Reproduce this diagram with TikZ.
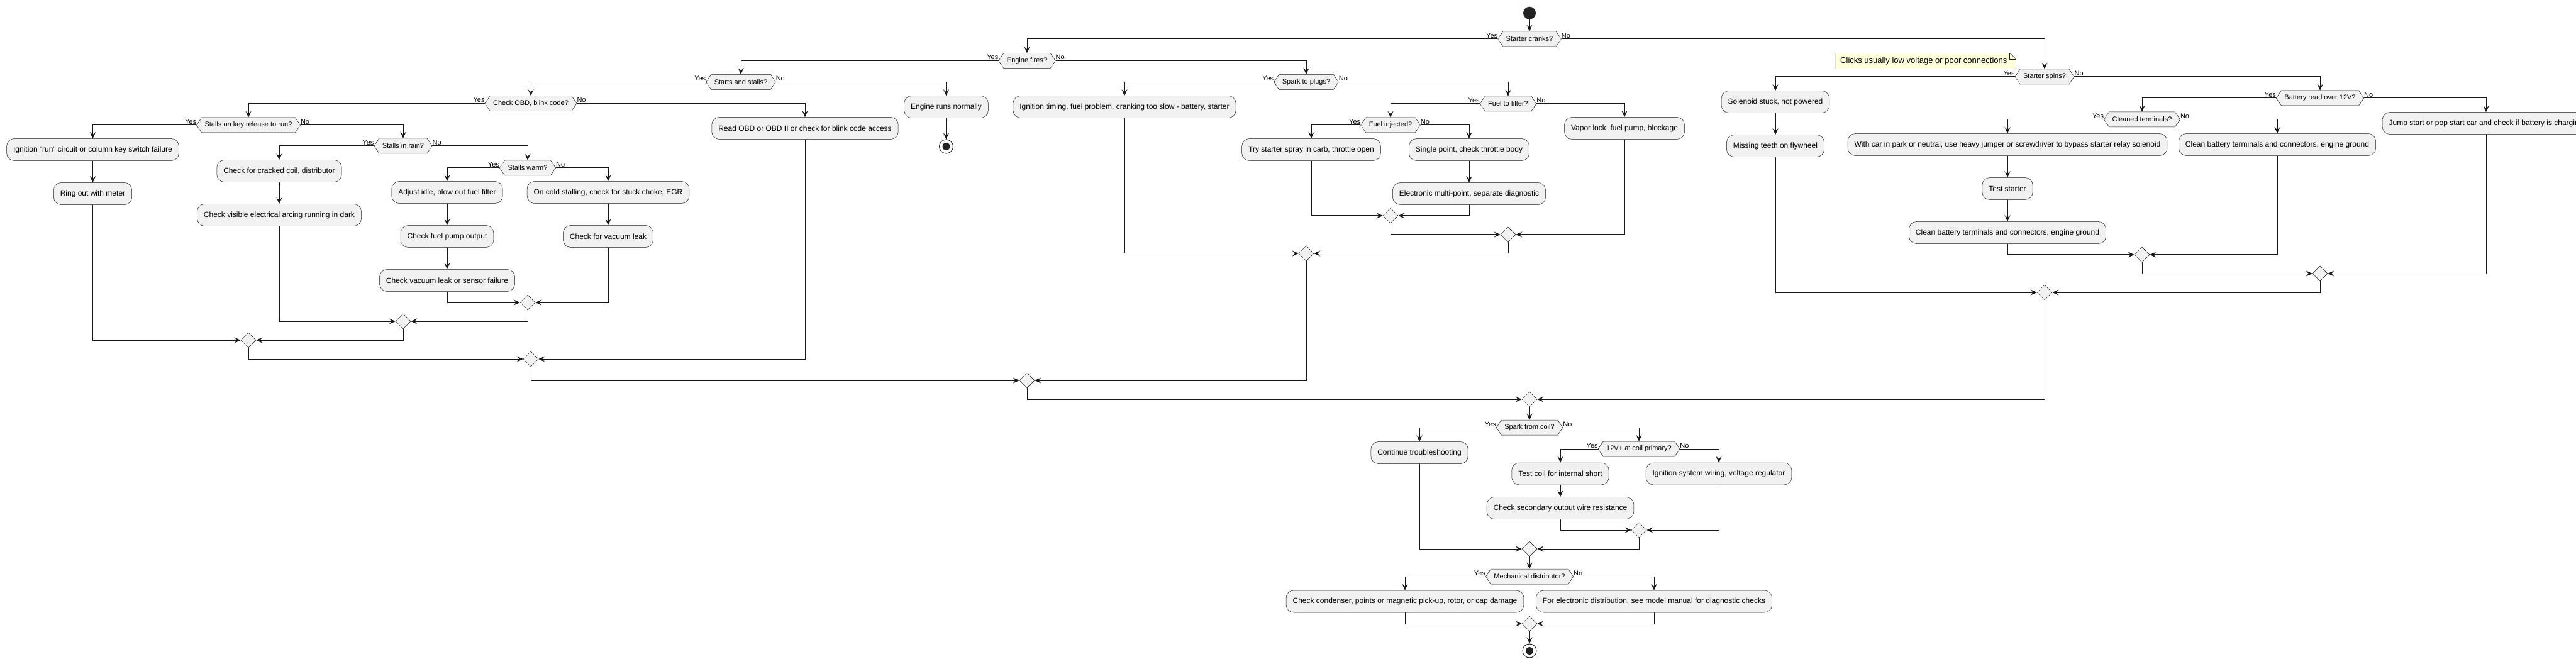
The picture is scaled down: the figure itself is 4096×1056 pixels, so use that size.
\documentclass[tikz,border=0pt]{standalone}
\usepackage{fontspec}
\setmainfont{Liberation Sans}
\usetikzlibrary{shapes.geometric,shapes.symbols,arrows.meta}
\definecolor{boxfill}{HTML}{F1F1F1}
\definecolor{ln}{HTML}{181818}
\definecolor{notefill}{HTML}{FEFFDD}
\definecolor{startc}{HTML}{222222}
\newcommand\ynlab[1]{%
  \node[lbl,anchor=base east] at ([yshift=1.5pt]#1.west) {Yes};
  \node[lbl,anchor=base west] at ([yshift=1.5pt]#1.east) {No};}
\begin{document}
\begin{tikzpicture}[x=1pt,y=-1pt,
  act/.style={rectangle, rounded corners=12pt, draw=ln, line width=0.5pt, fill=boxfill,
    minimum height=35pt, inner xsep=10.5pt, inner ysep=0pt, font=\fontsize{12}{14}\selectfont},
  dec/.style={shape=signal, signal to=east and west, signal pointer angle=112, draw=ln,
    line width=0.5pt, fill=boxfill, minimum height=24pt, inner xsep=5pt, inner ysep=0pt,
    font=\fontsize{11}{13}\selectfont},
  mrg/.style={diamond, draw=ln, line width=0.5pt, fill=boxfill, minimum width=24pt,
    minimum height=24pt, inner sep=0pt},
  arr/.style={draw=ln, line width=1pt, -{Stealth[length=10pt,width=9pt,inset=4pt]}},
  lbl/.style={font=\fontsize{11}{13}\selectfont, inner sep=0pt},
  endn/.style={circle, draw=ln, line width=1pt, minimum size=22pt, inner sep=0pt, fill=white},
]
\useasboundingbox (0,0) rectangle (4096,1056);
\clip (0,0) rectangle (4096,1056);
\fill[white] (0,0) rectangle (4096,1056);

% ---- start and top decisions
\node[circle, fill=startc, minimum size=20pt, inner sep=0pt] (start) at (2432,20.7) {};
\node[dec] (cranks) at (2432,62) {Starter cranks?};
\node[dec] (fires) at (1633,96.5) {Engine fires?};
\node[dec] (stalls) at (1178,130.5) {Starts and stalls?};
\node[dec] (obd) at (844,164.5) {Check OBD, blink code?};
\node[dec] (keyrel) at (395,199) {Stalls on key release to run?};
\node[dec] (rain) at (641,232) {Stalls in rain?};
\node[dec] (warm) at (839,267) {Stalls warm?};

\node[act] (ignrun) at (147.5,238) {Ignition "run" circuit or column key switch failure};
\node[act] (ringout) at (147.5,308) {Ring out with meter};
\node[act] (cracked) at (444,272) {Check for cracked coil, distributor};
\node[act] (arcing) at (444,342) {Check visible electrical arcing running in dark};
\node[act] (adjust) at (711,306) {Adjust idle, blow out fuel filter};
\node[act] (pump) at (711,376) {Check fuel pump output};
\node[act] (vacsensor) at (711,446) {Check vacuum leak or sensor failure};
\node[act] (cold) at (967,306) {On cold stalling, check for stuck choke, EGR};
\node[act] (vacleak) at (967,376) {Check for vacuum leak};
\node[act] (readobd) at (1280,204) {Read OBD or OBD II or check for blink code access};
\node[act] (normal) at (1504.5,170) {Engine runs normally};
\node[endn] (end1) at (1504.5,233) {};
\fill[startc] (end1.center) circle (6pt);

\node[mrg] (mwarm) at (839,481) {};
\node[mrg] (mrain) at (641,511) {};
\node[mrg] (mkey) at (395,541) {};
\node[mrg] (mobd) at (844,571) {};

% ---- spark branch
\node[dec] (plugs) at (2077,130.5) {Spark to plugs?};
\node[dec] (filter) at (2398,165) {Fuel to filter?};
\node[dec] (injected) at (2211,199) {Fuel injected?};
\node[act] (igntiming) at (1788,170) {Ignition timing, fuel problem, cranking too slow - battery, starter};
\node[act] (spray) at (2085,238) {Try starter spray in carb, throttle open};
\node[act] (single) at (2336,238) {Single point, check throttle body};
\node[act] (multi) at (2336,308) {Electronic multi-point, separate diagnostic};
\node[act] (vapor) at (2583,204) {Vapor lock, fuel pump, blockage};
\node[mrg] (minj) at (2211,343) {};
\node[mrg] (mfilter) at (2398,373) {};
\node[mrg] (mplugs) at (2077,403) {};
\node[mrg] (mfires) at (1633,605) {};

% ---- starter spins branch
\node[dec] (spins) at (3251,122) {Starter spins?};
\node[dec] (battery) at (3689,156) {Battery read over 12V?};
\node[dec] (cleaned) at (3406,190) {Cleaned terminals?};
\node[act] (solenoid) at (2823,162) {Solenoid stuck, not powered};
\node[act] (flywheel) at (2823,232) {Missing teeth on flywheel};
\node[act] (bypass) at (3192,230) {With car in park or neutral, use heavy jumper or screwdriver to bypass starter relay solenoid};
\node[act] (teststarter) at (3192,300) {Test starter};
\node[act] (clean1) at (3192,370) {Clean battery terminals and connectors, engine ground};
\node[act] (clean2) at (3621,230) {Clean battery terminals and connectors, engine ground};
\node[act] (jump) at (3953,196) {Jump start or pop start car and check if battery is charging};
\node[mrg] (mclean) at (3406,405) {};
\node[mrg] (mbatt) at (3689,435) {};
\node[mrg] (mspins) at (3251,465) {};

% note
\path[draw=ln, line width=0.5pt, fill=notefill] (2919,84.3) -- (3195.7,84.3) -- (3205.7,94.3) -- (3205.7,109.3) -- (2919,109.3) -- cycle;
\draw[ln, line width=0.5pt] (3195.7,84.3) -- (3195.7,94.3) -- (3205.7,94.3);
\node[anchor=west, inner sep=0pt, font=\fontsize{13}{15}\selectfont] (note) at (2926,96.8) {Clicks usually low voltage or poor connections};

% ---- bottom part
\node[mrg] (mcranks) at (2432,635) {};
\node[dec] (coil) at (2432,680) {Spark from coil?};
\node[dec] (coil12) at (2606,714) {12V+ at coil primary?};
\node[act] (continue) at (2257,720) {Continue troubleshooting};
\node[act] (testcoil) at (2481,753.5) {Test coil for internal short};
\node[act] (secondary) at (2481,808) {Check secondary output wire resistance};
\node[act] (ignsys) at (2733,753.5) {Ignition system wiring, voltage regulator};
\node[mrg] (mc12) at (2606,843) {};
\node[mrg] (mcoil) at (2432,873) {};
\node[dec] (mech) at (2432,917) {Mechanical distributor?};
\node[act] (condenser) at (2234,956.5) {Check condenser, points or magnetic pick-up, rotor, or cap damage};
\node[act] (electronic) at (2630,956.5) {For electronic distribution, see model manual for diagnostic checks};
\node[mrg] (mdist) at (2432,992) {};
\node[endn] (end2) at (2432,1035) {};
\fill[startc] (end2.center) circle (6pt);

% ---- yes/no labels
\foreach \d in {cranks,fires,stalls,obd,keyrel,rain,warm,plugs,filter,injected,spins,battery,cleaned,coil,coil12,mech}{\ynlab{\d}}

% ---- connectors
\draw[arr] (start.south) -- (cranks.north);
\draw[arr] (cranks.west) -| (fires.north);
\draw[arr] (cranks.east) -| (spins.north);
\draw[arr] (fires.west) -| (stalls.north);
\draw[arr] (fires.east) -| (plugs.north);
\draw[arr] (stalls.west) -| (obd.north);
\draw[arr] (stalls.east) -| (normal.north);
\draw[arr] (normal.south) -- (end1.north);
\draw[arr] (obd.west) -| (keyrel.north);
\draw[arr] (obd.east) -| (readobd.north);
\draw[arr] (keyrel.west) -| (ignrun.north);
\draw[arr] (ignrun.south) -- (ringout.north);
\draw[arr] (keyrel.east) -| (rain.north);
\draw[arr] (rain.west) -| (cracked.north);
\draw[arr] (cracked.south) -- (arcing.north);
\draw[arr] (rain.east) -| (warm.north);
\draw[arr] (warm.west) -| (adjust.north);
\draw[arr] (adjust.south) -- (pump.north);
\draw[arr] (pump.south) -- (vacsensor.north);
\draw[arr] (warm.east) -| (cold.north);
\draw[arr] (cold.south) -- (vacleak.north);
\draw[arr] (vacsensor.south) |- (mwarm.west);
\draw[arr] (vacleak.south) |- (mwarm.east);
\draw[arr] (arcing.south) |- (mrain.west);
\draw[arr] (mwarm.south) |- (mrain.east);
\draw[arr] (ringout.south) |- (mkey.west);
\draw[arr] (mrain.south) |- (mkey.east);
\draw[arr] (mkey.south) |- (mobd.west);
\draw[arr] (readobd.south) |- (mobd.east);
\draw[arr] (mobd.south) |- (mfires.west);
\draw[arr] (mplugs.south) |- (mfires.east);

\draw[arr] (plugs.west) -| (igntiming.north);
\draw[arr] (plugs.east) -| (filter.north);
\draw[arr] (filter.west) -| (injected.north);
\draw[arr] (filter.east) -| (vapor.north);
\draw[arr] (injected.west) -| (spray.north);
\draw[arr] (injected.east) -| (single.north);
\draw[arr] (single.south) -- (multi.north);
\draw[arr] (spray.south) |- (minj.west);
\draw[arr] (multi.south) |- (minj.east);
\draw[arr] (minj.south) |- (mfilter.west);
\draw[arr] (vapor.south) |- (mfilter.east);
\draw[arr] (igntiming.south) |- (mplugs.west);
\draw[arr] (mfilter.south) |- (mplugs.east);

\draw[arr] (spins.west) -| (solenoid.north);
\draw[arr] (solenoid.south) -- (flywheel.north);
\draw[arr] (spins.east) -| (battery.north);
\draw[arr] (battery.west) -| (cleaned.north);
\draw[arr] (battery.east) -| (jump.north);
\draw[arr] (cleaned.west) -| (bypass.north);
\draw[arr] (bypass.south) -- (teststarter.north);
\draw[arr] (teststarter.south) -- (clean1.north);
\draw[arr] (cleaned.east) -| (clean2.north);
\draw[arr] (clean1.south) |- (mclean.west);
\draw[arr] (clean2.south) |- (mclean.east);
\draw[arr] (mclean.south) |- (mbatt.west);
\draw[arr] (jump.south) |- (mbatt.east);
\draw[arr] (flywheel.south) |- (mspins.west);
\draw[arr] (mbatt.south) |- (mspins.east);

\draw[arr] (mfires.south) |- (mcranks.west);
\draw[arr] (mspins.south) |- (mcranks.east);
\draw[arr] (mcranks.south) -- (coil.north);
\draw[arr] (coil.west) -| (continue.north);
\draw[arr] (coil.east) -| (coil12.north);
\draw[arr] (coil12.west) -| (testcoil.north);
\draw[arr] (testcoil.south) -- (secondary.north);
\draw[arr] (coil12.east) -| (ignsys.north);
\draw[arr] (secondary.south) |- (mc12.west);
\draw[arr] (ignsys.south) |- (mc12.east);
\draw[arr] (continue.south) |- (mcoil.west);
\draw[arr] (mc12.south) |- (mcoil.east);
\draw[arr] (mcoil.south) -- (mech.north);
\draw[arr] (mech.west) -| (condenser.north);
\draw[arr] (mech.east) -| (electronic.north);
\draw[arr] (condenser.south) |- (mdist.west);
\draw[arr] (electronic.south) |- (mdist.east);
\draw[arr] (mdist.south) -- (end2.north);
\end{tikzpicture}
\end{document}
